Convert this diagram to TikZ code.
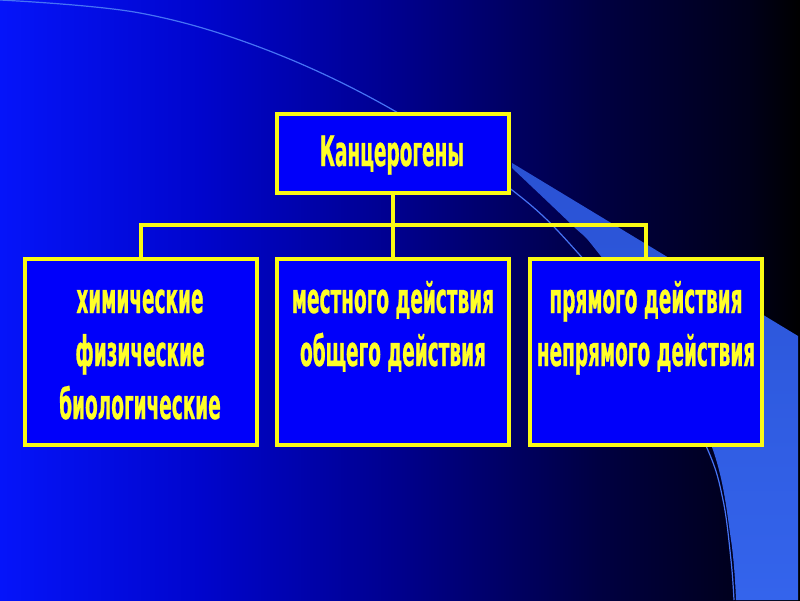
\documentclass[tikz,border=0pt]{standalone}
\usepackage{fontspec}
\newfontfamily\cf{DejaVu Sans}[FakeStretch=0.44, FakeBold=0.6]
\usetikzlibrary{shadows}
\definecolor{boxblue}{RGB}{0,0,250}
\definecolor{ylw}{RGB}{250,250,20}
\definecolor{txt}{RGB}{255,255,40}
\definecolor{swooshA}{RGB}{42,82,212}
\definecolor{swooshB}{RGB}{52,100,236}
\definecolor{arcc}{RGB}{70,115,245}
\definecolor{bgA}{RGB}{5,20,250}
\definecolor{bgB}{RGB}{0,5,205}
\definecolor{bgC}{RGB}{0,0,140}
\definecolor{bgD}{RGB}{0,0,65}
\definecolor{bgE}{RGB}{0,0,25}
\tikzset{
  box/.style={draw=ylw, line width=4pt, fill=boxblue, inner sep=0pt,
    minimum width=232pt,
    drop shadow={shadow xshift=1.5pt, shadow yshift=-1.5pt, opacity=0.55, fill=black}},
  topbox/.style={box, minimum height=79pt},
  subbox/.style={box, minimum height=186pt},
  conn/.style={draw=ylw, line width=3.5pt},
  lbl/.style={anchor=base, text=txt, inner sep=0pt, font=\cf\bfseries\fontsize{42}{48}\selectfont}
}
\begin{document}
\begin{tikzpicture}[x=1pt,y=-1pt]
\useasboundingbox (0,0) rectangle (800,600);
% background
\shade[left color=bgA, right color=bgB] (0,0) rectangle (201,600);
\shade[left color=bgB, right color=bgC] (200,0) rectangle (401,600);
\shade[left color=bgC, right color=bgD] (400,0) rectangle (601,600);
\shade[left color=bgD, right color=bgE] (600,0) rectangle (751,600);
\shade[left color=bgE, right color=black] (750,0) rectangle (800,600);
% swoosh
\shade[top color=swooshA, bottom color=swooshB] (512,163) -- (798,336) -- (798,600)
  -- plot[smooth, tension=0.6] coordinates {(736,600) (731,540) (713,450) (662,340) (596,250) (572,225) (512,168)} -- cycle;
% thin arc
\draw[arcc, line width=1.2pt] plot[smooth, tension=0.6] coordinates {(0,0) (140,13) (267,50) (393,110) (512,190) (578,253) (660,355) (707,448) (723,500) (731,560) (734,600)};
% connectors
\node[topbox] (top) at (393,153.5) {};
\node[subbox] (c1) at (141,352) {};
\node[subbox] (c2) at (393,352) {};
\node[subbox] (c3) at (646,352) {};
\coordinate (hub) at (393,225);
\draw[conn] (top.south) -- (c2.north);
\draw[conn] (c1.north) -- (c1.north |- hub) -- (c3.north |- hub) -- (c3.north);
% redraw boxes above connectors
\node[topbox] (topb) at (393,153.5) {};
\node[subbox] (c1b) at (141,352) {};
\node[subbox] (c2b) at (393,352) {};
\node[subbox] (c3b) at (646,352) {};
% texts
\node[lbl] (t0) at (392,166) {Канцерогены};
\node[lbl] (t11) at (140,313) {химические};
\node[lbl] (t12) at (140,366) {физические};
\node[lbl] (t13) at (140,419) {биологические};
\node[lbl] (t21) at (393,313) {местного действия};
\node[lbl] (t22) at (393,366) {общего действия};
\node[lbl] (t31) at (646,313) {прямого действия};
\node[lbl] (t32) at (646,366) {непрямого действия};
\end{tikzpicture}
\end{document}
